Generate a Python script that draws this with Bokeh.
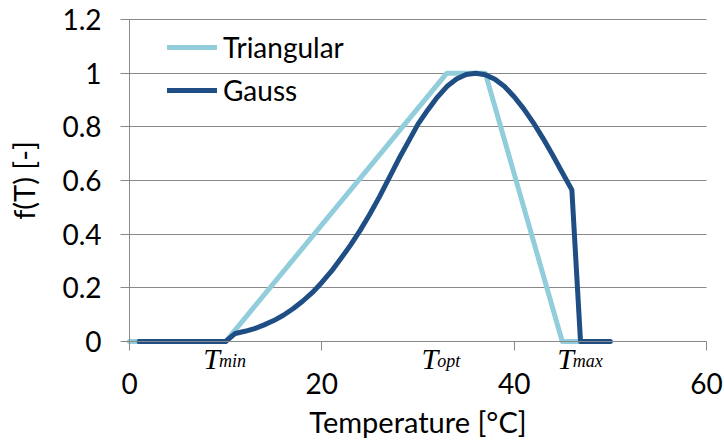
from bokeh.plotting import figure
from bokeh.models import Legend, LegendItem, FixedTicker, Range1d, Label
from bokeh.embed import file_html
from bokeh.resources import INLINE

# ---- data ----
tri_x = [0, 10, 33, 37, 45, 47]
tri_y = [0, 0, 1.0, 1.0, 0, 0]

gauss_x = [1, 10, 11, 12, 13, 14, 15, 16, 17, 18, 19, 20, 21, 22, 23, 24, 25,
           26, 27, 28, 29, 30, 31, 32, 33, 34, 35, 36, 37, 38, 39, 40, 41,
           42, 43, 44, 45, 46, 46.9, 50]
gauss_y = [0, 0, 0.03, 0.038, 0.048, 0.062, 0.078, 0.098, 0.122, 0.15, 0.182,
           0.22, 0.262, 0.31, 0.36, 0.415, 0.475, 0.54, 0.61, 0.68, 0.745,
           0.81, 0.862, 0.91, 0.95, 0.978, 0.995, 1.0, 0.994, 0.977, 0.95,
           0.912, 0.867, 0.815, 0.757, 0.695, 0.63, 0.565, 0, 0]

x_ticks = [0, 20, 40, 60]
y_ticks = [0, 0.2, 0.4, 0.6, 0.8, 1.0, 1.2]
y_tick_labels = ["0", "0.2", "0.4", "0.6", "0.8", "1", "1.2"]

marker_names = ["T", "T", "T"]
marker_subs = ["min", "opt", "max"]
marker_x = [9.3, 32.0, 46.1]

TRI_COLOR = "#92CDDC"
GAUSS_COLOR = "#1F4E85"
GRID = "#888888"
FONT = "Lato"

# ---- layout: the frame fills the canvas, axes are pinned at x=0 / y=0 ----
W, H = 724, 441
LEFT_PX, RIGHT_PX = 129, 706        # pixel columns of x = 0 and x = 60
TOP_PX, BOTTOM_PX = 19, 341         # pixel rows of y = 1.2 and y = 0
x_lo, x_hi = x_ticks[0], x_ticks[-1]
y_lo, y_hi = y_ticks[0], y_ticks[-1]
kx = (x_hi - x_lo) / (RIGHT_PX - LEFT_PX)
ky = (y_hi - y_lo) / (BOTTOM_PX - TOP_PX)
x_range = Range1d(x_lo - LEFT_PX * kx, x_hi + (W - RIGHT_PX) * kx)
y_range = Range1d(y_lo - (H - BOTTOM_PX) * ky, y_hi + TOP_PX * ky)

p = figure(width=W, height=H, x_range=x_range, y_range=y_range,
           output_backend="svg", toolbar_location=None,
           min_border=0, min_border_left=0, min_border_right=0,
           min_border_top=0, min_border_bottom=0)
p.outline_line_color = None
p.background_fill_color = "white"
p.border_fill_color = "white"

p.xgrid.grid_line_color = None
p.ygrid.grid_line_color = GRID
p.ygrid.grid_line_width = 1
p.ygrid.ticker = FixedTicker(ticks=y_ticks)
p.ygrid.bounds = (y_lo, y_hi)
p.ygrid.cross_bounds = (x_lo, x_hi)

p.xaxis.ticker = FixedTicker(ticks=x_ticks)
p.yaxis.ticker = FixedTicker(ticks=y_ticks)
p.yaxis.major_label_overrides = {t: l for t, l in zip(y_ticks, y_tick_labels)}
p.xaxis.bounds = (x_lo, x_hi)
p.yaxis.bounds = (y_lo, y_hi)
p.xaxis.fixed_location = y_lo
p.yaxis.fixed_location = x_lo

for ax in (p.xaxis[0], p.yaxis[0]):
    ax.axis_line_color = GRID
    ax.axis_line_width = 1
    ax.major_tick_line_color = GRID
    ax.major_tick_out = 9
    ax.major_tick_in = 0
    ax.minor_tick_out = 0
    ax.minor_tick_in = 0
    ax.major_label_text_font = FONT
    ax.major_label_text_font_size = "28px"
    ax.major_label_text_color = "black"
    ax.axis_label_text_font = FONT
    ax.axis_label_text_font_size = "29px"
    ax.axis_label_text_font_style = "normal"
    ax.axis_label_text_color = "black"

p.xaxis.axis_label = "Temperature [°C]"
p.yaxis.axis_label = "f(T) [-]"
p.xaxis.major_label_standoff = 22
p.xaxis.axis_label_standoff = 7
p.yaxis.major_label_standoff = 19
p.yaxis.axis_label_standoff = 18

r1 = p.line(tri_x, tri_y, line_color=TRI_COLOR, line_width=5,
            line_cap="round", line_join="round")
r2 = p.line(gauss_x, gauss_y, line_color=GAUSS_COLOR, line_width=5,
            line_cap="round", line_join="round")

# T_min, T_opt, T_max labels just below the temperature axis
for mx, name, sub in zip(marker_x, marker_names, marker_subs):
    p.add_layout(Label(x=mx, y=0, text=name, text_align="right",
                       text_baseline="alphabetic", x_offset=1, y_offset=-17,
                       text_font="Liberation Serif", text_font_style="italic",
                       text_font_size="30px", text_color="black"))
    p.add_layout(Label(x=mx, y=0, text=sub, text_align="left",
                       text_baseline="alphabetic", y_offset=-19,
                       text_font="Liberation Serif", text_font_style="italic",
                       text_font_size="18px", text_color="black"))

legend = Legend(items=[LegendItem(label="Triangular", renderers=[r1]),
                       LegendItem(label="Gauss", renderers=[r2])],
                location=(LEFT_PX + 38, H - 110), orientation="vertical",
                padding=0, margin=0, spacing=3,
                glyph_width=50, glyph_height=40, label_height=40,
                label_standoff=6, border_line_color=None,
                background_fill_alpha=0,
                label_text_font=FONT, label_text_font_size="28px",
                label_text_color="black")
p.add_layout(legend)

open("out.html", "w").write(file_html(p, INLINE))
